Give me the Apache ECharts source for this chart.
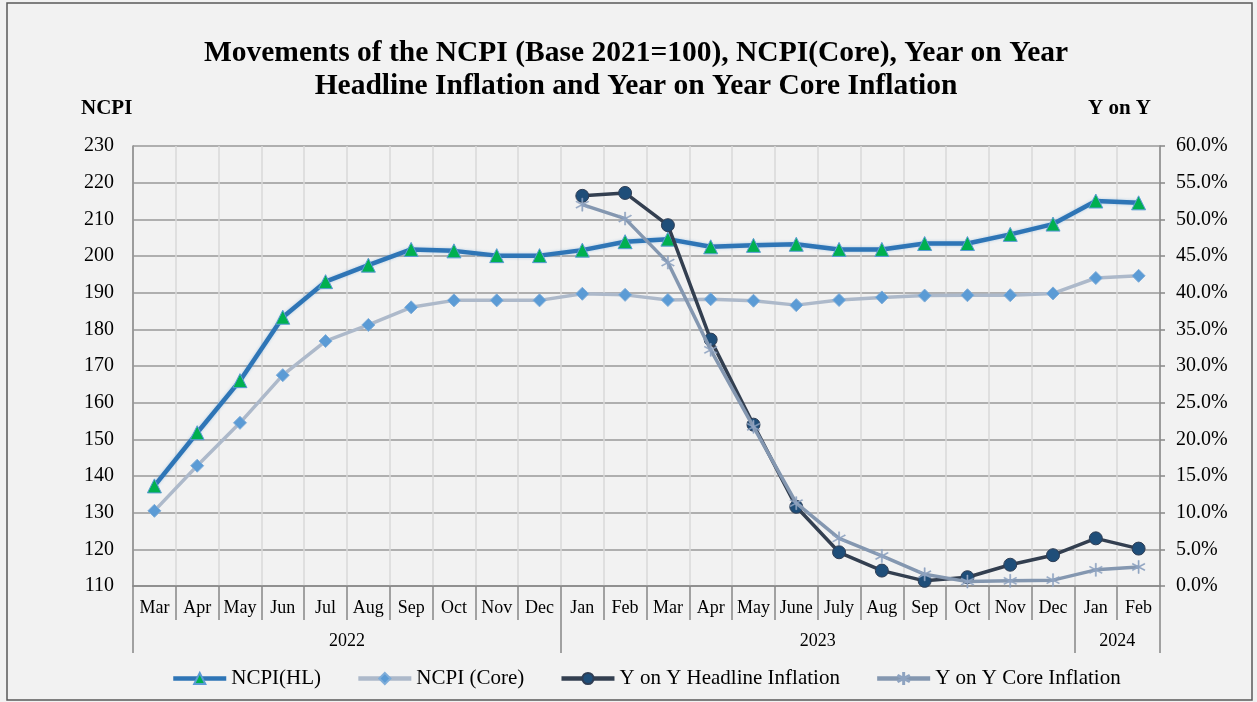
<!DOCTYPE html>
<html>
<head>
<meta charset="utf-8">
<script src="https://cdn.jsdelivr.net/npm/echarts@6/dist/echarts.min.js"></script>
<style>
html,body{margin:0;padding:0;background:#f2f2f2;}
#c{width:1257px;height:702px;}
</style>
</head>
<body>
<div id="c"></div>
<script>
// ---- data ----
var months = ['Mar','Apr','May','Jun','Jul','Aug','Sep','Oct','Nov','Dec',
              'Jan','Feb','Mar','Apr','May','June','July','Aug','Sep','Oct','Nov','Dec',
              'Jan','Feb'];
var years = ['2022','2023','2024'];
var yearSpans = [10, 12, 2];
var ncpiHL = [137.3,151.8,166.0,183.3,193.0,197.5,201.8,201.4,200.1,200.1,
              201.6,203.9,204.6,202.5,202.9,203.2,201.8,201.8,203.4,203.4,205.9,208.7,
              215.0,214.5];
var ncpiCore = [130.5,142.8,154.5,167.5,176.8,181.2,186.0,187.9,187.9,187.9,
                189.7,189.4,188.0,188.2,187.8,186.6,188.0,188.7,189.2,189.3,189.3,189.8,
                194.0,194.6];
var yoyHL = [null,null,null,null,null,null,null,null,null,null,
             53.2,53.6,49.2,33.6,22.0,10.8,4.6,2.1,0.7,1.2,2.9,4.2,
             6.5,5.1];
var yoyCore = [null,null,null,null,null,null,null,null,null,null,
               52.0,50.1,44.1,32.2,21.7,11.3,6.5,4.1,1.6,0.6,0.7,0.8,
               2.2,2.6];
var seriesNames = ['NCPI(HL)','NCPI (Core)','Y on Y Headline Inflation','Y on Y Core Inflation'];

// ---- derived year axis positions ----
var yearBounds = [0], yearCenters = [], yearLabelMap = {};
(function(){
  var acc = 0;
  for (var i = 0; i < yearSpans.length; i++) {
    var c = acc + yearSpans[i] / 2;
    yearCenters.push(c);
    yearLabelMap[c] = years[i];
    acc += yearSpans[i];
    yearBounds.push(acc);
  }
})();

var FONT = "'Liberation Serif','Times New Roman',serif";
var asterisk = 'path://M9.2 0 L10.8 0 L10.8 20 L9.2 20 Z M0.94 5.69 L1.74 4.31 L19.06 14.31 L18.26 15.69 Z M1.74 15.69 L0.94 14.31 L18.26 4.31 L19.06 5.69 Z';

var chart = echarts.init(document.getElementById('c'), null, {renderer:'canvas'});
chart.setOption({
  backgroundColor: '#f2f2f2',
  animation: false,
  title: [
    {text: 'Movements of the NCPI (Base 2021=100), NCPI(Core), Year on Year\nHeadline Inflation and Year on Year Core Inflation',
     left: 636, textAlign: 'center', top: 37, padding: 0,
     textStyle: {fontFamily: FONT, fontWeight: 'bold', fontSize: 29.5, lineHeight: 33, color: '#000'}},
    {text: 'NCPI', left: 81, top: 97, padding: 0,
     textStyle: {fontFamily: FONT, fontWeight: 'bold', fontSize: 21, lineHeight: 24, color: '#000'}},
    {text: 'Y on Y', right: 106, top: 97, padding: 0,
     textStyle: {fontFamily: FONT, fontWeight: 'bold', fontSize: 21, lineHeight: 24, color: '#000'}}
  ],
  graphic: [{
    type: 'rect', shape: {x: 7, y: 3, width: 1245, height: 697},
    style: {fill: 'none', stroke: '#595959', lineWidth: 1.5}, silent: true
  }],
  legend: {
    bottom: 13, left: 171, padding: 0,
    itemWidth: 53, itemHeight: 14, itemGap: 35,
    lineStyle: {width: 4.5},
    textStyle: {fontFamily: FONT, fontSize: 21, color: '#000'},
    data: seriesNames
  },
  grid: {left: 133, right: 97, top: 146, bottom: 116, containLabel: false},
  xAxis: [
    {type: 'category', data: months, boundaryGap: true, position: 'bottom',
     axisLine: {show: true, lineStyle: {color: '#868686', width: 1.5}},
     axisTick: {show: true, interval: 0, length: 34, lineStyle: {color: '#868686', width: 1.5}},
     axisLabel: {interval: 0, margin: 13, fontFamily: FONT, fontSize: 18, color: '#000'},
     splitLine: {show: true, interval: 0, lineStyle: {color: '#d9d9d9', width: 1.5}}},
    {type: 'value', min: 0, max: 24, position: 'bottom', offset: 0,
     axisLine: {show: false},
     axisTick: {show: true, customValues: yearBounds, length: 67, lineStyle: {color: '#868686', width: 1.5}},
     axisLabel: {show: true, customValues: yearCenters, margin: 46,
                 formatter: function(v){ return yearLabelMap[v] || ''; },
                 fontFamily: FONT, fontSize: 18, color: '#000'},
     splitLine: {show: false}}
  ],
  yAxis: [
    {type: 'value', min: 110, max: 230, interval: 10, position: 'left',
     axisLine: {show: true, lineStyle: {color: '#868686', width: 1.5}},
     axisTick: {show: false},
     axisLabel: {margin: 19, fontFamily: FONT, fontSize: 20, color: '#000'},
     splitLine: {show: true, lineStyle: {color: '#989898', width: 1.5}}},
    {type: 'value', min: 0, max: 60, interval: 5, position: 'right',
     axisLine: {show: true, lineStyle: {color: '#868686', width: 1.5}},
     axisTick: {show: true, length: 5, lineStyle: {color: '#868686', width: 1.5}},
     axisLabel: {margin: 16, fontFamily: FONT, fontSize: 20, color: '#000',
                 formatter: function(v){ return v.toFixed(1) + '%'; }},
     splitLine: {show: false}}
  ],
  series: [
    {name: seriesNames[0], type: 'line', xAxisIndex: 0, yAxisIndex: 0, data: ncpiHL,
     symbol: 'triangle', symbolSize: 14, showAllSymbol: true,
     lineStyle: {color: '#2e75b6', width: 4.5, shadowColor: 'rgba(91,155,213,0.45)', shadowBlur: 3},
     itemStyle: {color: '#00b050', borderColor: '#5b9bd5', borderWidth: 1}, z: 2},
    {name: seriesNames[1], type: 'line', xAxisIndex: 0, yAxisIndex: 0, data: ncpiCore,
     symbol: 'diamond', symbolSize: 13, showAllSymbol: true,
     lineStyle: {color: '#adb9ca', width: 3.5},
     itemStyle: {color: '#5b9bd5', borderColor: '#7fadd9', borderWidth: 1}, z: 2},
    {name: seriesNames[2], type: 'line', xAxisIndex: 0, yAxisIndex: 1, data: yoyHL,
     symbol: 'circle', symbolSize: 13, showAllSymbol: true,
     lineStyle: {color: '#333f50', width: 3.5},
     itemStyle: {color: '#1f4e79', borderColor: '#2f3e55', borderWidth: 1}, z: 3},
    {name: seriesNames[3], type: 'line', xAxisIndex: 0, yAxisIndex: 1, data: yoyCore,
     symbol: asterisk, symbolSize: 13, showAllSymbol: true,
     lineStyle: {color: '#8497b0', width: 3.5},
     itemStyle: {color: '#8ea3c0', borderColor: '#8ea3c0', borderWidth: 0.5}, z: 4}
  ]
});
</script>
</body>
</html>
